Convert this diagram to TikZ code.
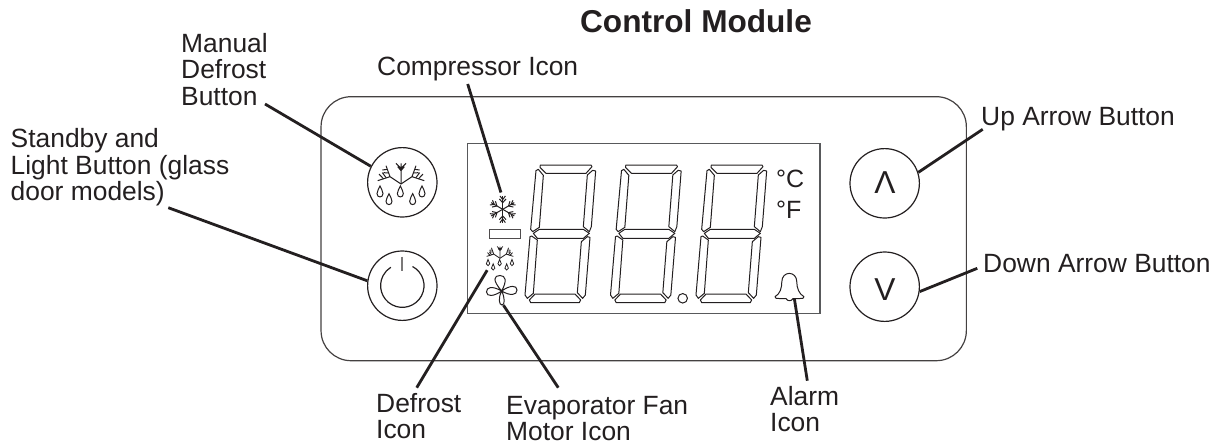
\documentclass[tikz,border=0pt]{standalone}
\usepackage{fontspec}
\setmainfont{Liberation Sans}
\definecolor{ink}{HTML}{231F20}
\definecolor{frame}{HTML}{58595B}
\tikzset{
  leader/.style={line width=2.8pt,draw=ink},
  outline/.style={line width=1.2pt,draw=ink},
  seg/.style={line width=1pt,draw=ink,line join=round,fill=white},
  lbl/.style={anchor=base west,inner sep=0pt,align=left,text=ink,font=\fontsize{26.4}{26.6}\selectfont},
  lblm/.style={lbl,anchor=north west},
  btn/.style={circle,outline,inner sep=0pt,minimum size=69.4pt},
  tip/.style={inner sep=0pt,minimum size=0pt},
  letter/.style={anchor=base,inner sep=0pt,text=ink,font=\fontsize{31.7}{32}\selectfont},
  flake/.pic={
    \foreach \a in {30,90,150,210,270,330}{
      \begin{scope}[rotate=\a]
        \draw[pic actions] (0,0)--(40,0);
        \draw[pic actions] (20,0)--(31,-10) (20,0)--(31,10);
        \draw[pic actions] (29,0)--(40,-8) (29,0)--(40,8);
      \end{scope}}
  },
  defrostpic/.pic={
    \draw[pic actions] (0,0)--(0,-62) (-15,-62)--(0,-47)--(15,-62) (-10,-52)--(0,-40)--(10,-52);
    \foreach \s in {-1,1}{
      \draw[pic actions] (0,0)--(\s*33,-22) (\s*33,-22)--(\s*70,-10) (\s*33,-22)--(\s*45,-55);
      \draw[pic actions] (\s*44,-18)--(\s*56,-34) (\s*52,-15)--(\s*66,-30) (\s*37,-33)--(\s*52,-34) (\s*41,-44)--(\s*56,-42);
    }
    \foreach \x/\y in {-63/23,-36/46,-2/23,35/46,63/23}{
      \draw[pic actions] (\x,\y-17) .. controls (\x-3,\y-8) and (\x-9,\y-3) .. (\x-9,\y+6)
        .. controls (\x-9,\y+19) and (\x+9,\y+19) .. (\x+9,\y+6)
        .. controls (\x+9,\y-3) and (\x+3,\y-8) .. (\x,\y-17) -- cycle;
    }
  }
}
\begin{document}
\begin{tikzpicture}[x=1pt,y=-1pt]
\useasboundingbox (0,0) rectangle (1216,445);
% panel
\node[inner sep=0pt,minimum width=645.3pt,minimum height=264pt,rounded corners=30pt,draw=ink!85,line width=1.2pt] (panel) at (643.7,228.7) {};
\node[inner sep=0pt,minimum width=352.7pt,minimum height=170pt,line width=1.3pt,draw=frame] (display) at (643.7,228.7) {};
% digits
\foreach \dx in {0,85.5,171}{
\begin{scope}[shift={(500+\dx,130)},scale=1/3]
  \draw[seg] (121,105)--(273,105)--(276,110)--(258,130)--(138,130)--(120,112)--cycle;
  \draw[seg] (278,121)--(287,123)--(274,290)--(268,305)--(250,290)--(262,135)--cycle;
  \draw[seg] (108,122)--(115,118)--(130,136)--(118,292)--(98,305)--(92,298)--cycle;
  \draw[seg] (100,310)--(118,298)--(250,298)--(268,310)--(250,325)--(112,325)--cycle;
  \draw[seg] (90,320)--(95,318)--(112,330)--(100,490)--(82,505)--(75,495)--cycle;
  \draw[seg] (262,320)--(270,322)--(256,495)--(248,505)--(232,488)--(244,335)--cycle;
  \draw[seg] (105,492)--(225,492)--(242,510)--(238,518)--(92,518)--(88,510)--cycle;
\end{scope}}
\node[circle,seg,inner sep=0pt,minimum size=9.5pt] (dot) at (682.7,298.3) {};
% buttons
\node[btn] (btnDefrost) at (402.3,182.3) {};
\node[btn] (btnStandby) at (402.3,285.7) {};
\node[btn] (btnUp) at (884.7,183.3) {};
\node[btn] (btnDown) at (884.7,286.7) {};
\node[letter] (symUp) at (885,193.3) {Λ};
\node[letter] (symDown) at (885,300) {V};
\pic[outline,scale=1/3,line width=1pt] at (401,184) {defrostpic};
\draw[outline] (412.5,266.5) arc[start angle=-62,end angle=238,radius=21.7];
\draw[line width=1.2pt,draw=ink!60] (402,256.7)--(402,271);
% icons
\pic[outline,scale=1/3,line width=1pt] at (502.7,209.3) {flake};
\node[draw=ink!80,line width=1pt,inner sep=0pt,minimum width=31pt,minimum height=9.4pt] (bar) at (504.8,234) {};
\pic[outline,scale=.19,line width=.8pt] at (500,258.3) {defrostpic};
\draw[line width=1pt,draw=ink] (501.7,291) .. controls (492,280) and (494,275.5) .. (500,275.5) .. controls (506,275.5) and (507,281) .. (501.7,291)
  .. controls (492,285.5) and (486.5,287) .. (486.5,292) .. controls (486.5,297) and (494,296.5) .. (501.7,291)
  .. controls (510,285) and (517,285) .. (517,290) .. controls (517,295.5) and (510,296) .. (501.7,291)
  .. controls (498,298) and (499,305) .. (502,305) .. controls (505,305) and (505,298) .. (501.7,291);
\draw[line width=1pt,draw=ink,line join=round] (775,296.7) .. controls (780,294) and (781.8,288) .. (781.8,282)
  .. controls (781.8,270.5) and (796.8,270.5) .. (796.8,282) .. controls (796.8,288) and (799,294) .. (804,296.7)
  .. controls (804.5,298.5) and (802,298.5) .. (800,298.5) -- (793,298.5) .. controls (791.5,301.5) and (787.5,301.5) .. (786,298.5)
  -- (779,298.5) .. controls (777,298.5) and (774.5,298.5) .. (775,296.7) -- cycle;
\node[lbl,font=\fontsize{25}{25}\selectfont] (unitC) at (776,187.3) {°C};
\node[lbl,font=\fontsize{25}{25}\selectfont] (unitF) at (776,218.3) {°F};
% tips
\node[tip] (tipComp) at (501,192.7) {};
\node[tip] (tipDefrost) at (487.3,270) {};
\node[tip] (tipFan) at (503.3,305) {};
\node[tip] (tipAlarm) at (794.3,298.3) {};
% labels
\node[anchor=base,inner sep=0pt,text=ink,font=\fontsize{31.6}{32}\bfseries\selectfont] (title) at (696,32.3) {Control Module};
\node[lblm] (lManual) at (181,32.7) {Manual\\Defrost\\Button};
\node[lblm] (lStandby) at (10.5,128.4) {Standby and\\Light Button (glass\\door models)};
\node[lbl] (lComp) at (377,75) {Compressor Icon};
\node[lblm] (lDefrost) at (376,392.7) {Defrost\\Icon};
\node[lblm] (lFan) at (506,396) {Evaporator Fan\\Motor Icon};
\node[lblm] (lAlarm) at (770,386) {Alarm\\Icon};
\node[lbl] (lUp) at (981,125) {Up Arrow Button};
\node[lbl] (lDown) at (983,272.3) {Down Arrow Button};
% leaders
\coordinate (eManual) at (265,104);
\coordinate (eStandby) at (168.3,207.7);
\coordinate (eComp) at (467.7,84);
\coordinate (eDefrost) at (416.7,387.7);
\coordinate (eFan) at (558.3,387.7);
\coordinate (eAlarm) at (807.3,380.7);
\coordinate (eUp) at (982.7,129.3);
\coordinate (eDown) at (977.3,268.3);
\draw[leader] (eManual) -- (btnDefrost.153);
\draw[leader] (eStandby) -- (btnStandby.172);
\draw[leader] (eComp) -- (tipComp);
\draw[leader] (eDefrost) -- (tipDefrost);
\draw[leader] (eFan) -- (tipFan);
\draw[leader] (eAlarm) -- (tipAlarm);
\draw[leader] (eUp) -- (btnUp.18);
\draw[leader] (eDown) -- (btnDown.-8);
\end{tikzpicture}
\end{document}
